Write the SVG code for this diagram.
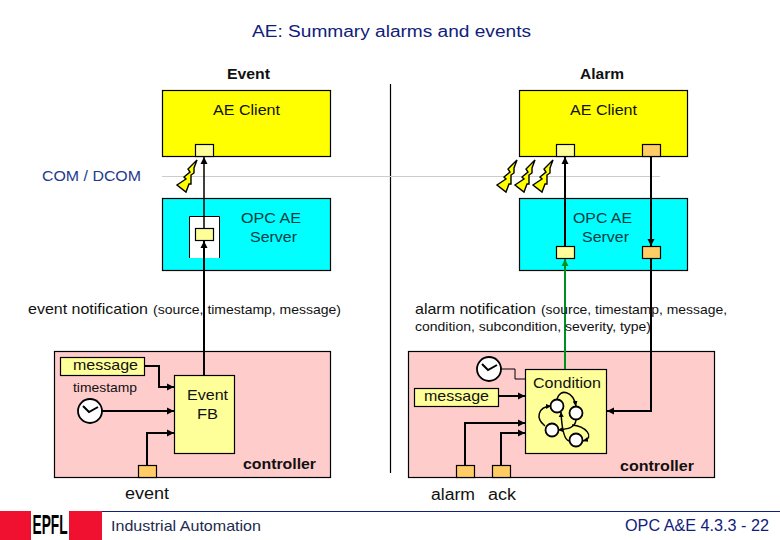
<svg xmlns="http://www.w3.org/2000/svg" width="780" height="540" viewBox="0 0 780 540">
<style>
text{font-family:"Liberation Sans",Arial,sans-serif;fill:#111;font-size:15px}
.b{font-weight:bold}
.n{fill:#10207a}
.s{font-size:13px}
.box{stroke:#000;stroke-width:1.2}
.y{fill:#ffff00}.c{fill:#00ffff}.p{fill:#ffcccc}.ly{fill:#ffff99}.o{fill:#ffcc66}
.w{fill:none;stroke:#000;stroke-width:2}
.t{fill:none;stroke:#000;stroke-width:1}
.q{fill:none;stroke:#000;stroke-width:1.5}
.h{fill:#fff;stroke:#000;stroke-width:1.8}
.bolt{fill:#ffff00;stroke:#000;stroke-width:1.4;stroke-linejoin:miter}
</style>
<defs>
<marker id="a" markerUnits="userSpaceOnUse" markerWidth="8" markerHeight="8" refX="7" refY="4" orient="auto"><path d="M0,0.5L7,4L0,7.5Z" fill="#000"/></marker>
<marker id="g" markerUnits="userSpaceOnUse" markerWidth="8" markerHeight="8" refX="7" refY="4" orient="auto"><path d="M0,0.5L7,4L0,7.5Z" fill="#009020"/></marker>
<marker id="m" markerUnits="userSpaceOnUse" markerWidth="6" markerHeight="6" refX="5" refY="3" orient="auto"><path d="M0,0.5L5,3L0,5.5Z" fill="#000"/></marker>
<polygon id="bolt" class="bolt" points="0,0 -9,9 -7,12 -13,17 -11,19 -20,25 -11,32 -8,24 -6,24 -6,15 -3,13 -3,8"/>
<g id="clock"><circle r="12" class="h"/><path d="M-7,-5L-1,1L8,-4" class="w"/></g>
</defs>
<g id="title">
<text x="252" y="37" textLength="279" lengthAdjust="spacingAndGlyphs" style="font-size:16px" class="n">AE: Summary alarms and events</text>
<text x="227" y="79" textLength="43" lengthAdjust="spacingAndGlyphs" class="b" style="font-size:14px">Event</text>
<text x="580" y="79" textLength="44" lengthAdjust="spacingAndGlyphs" class="b" style="font-size:14px">Alarm</text>
</g>
<g id="divider"><line x1="390.5" y1="84" x2="390.5" y2="473" stroke="#000" stroke-width="1.2"/></g>
<g id="com"><line x1="162" y1="176.5" x2="660" y2="176.5" stroke="#ccc" stroke-width="1"/>
<text x="42" y="181" textLength="99" lengthAdjust="spacingAndGlyphs" class="n" style="fill:#1c3a8c">COM / DCOM</text></g>
<g id="client-left"><rect x="162.5" y="90.5" width="168" height="66" class="box y"/><text x="213" y="115" textLength="67" lengthAdjust="spacingAndGlyphs">AE Client</text><rect x="195.5" y="144.5" width="18" height="12" class="box ly"/></g>
<g id="client-right"><rect x="519.5" y="90.5" width="168" height="66" class="box y"/><text x="570" y="115" textLength="67" lengthAdjust="spacingAndGlyphs">AE Client</text><rect x="556.5" y="144.5" width="18" height="12" class="box ly"/><rect x="642.5" y="144.5" width="18" height="12" class="box o"/></g>
<g id="server-left"><rect x="162.5" y="198.5" width="168" height="72" class="box c"/><rect x="189.500" y="216.500" width="30" height="41.500" fill="#fff"/><path d="M189.500,258V216.500H219.500V258" fill="none" stroke="#000"/><text x="241" y="223" textLength="60" lengthAdjust="spacingAndGlyphs" style="fill:#043c44">OPC AE</text><text x="250" y="242" textLength="47" lengthAdjust="spacingAndGlyphs" style="fill:#043c44">Server</text><rect x="195.500" y="228.500" width="18" height="12" class="box ly"/></g>
<g id="server-right"><rect x="519.5" y="198.5" width="168" height="72" class="box c"/><text x="573" y="223" textLength="59" lengthAdjust="spacingAndGlyphs" style="fill:#043c44">OPC AE</text><text x="582" y="242" textLength="47" lengthAdjust="spacingAndGlyphs" style="fill:#043c44">Server</text><rect x="556.5" y="246.5" width="18" height="12" class="box ly"/><rect x="642.5" y="246.5" width="18" height="12" class="box o"/></g>
<g id="bolts"><use href="#bolt" x="197" y="160"/><use href="#bolt" x="517" y="160"/><use href="#bolt" x="535" y="160"/><use href="#bolt" x="553" y="160"/></g>
<g id="controller-left"><rect x="54.5" y="351.5" width="276" height="126" class="box p"/>
<rect x="60.500" y="357.500" width="84" height="18" class="box ly"/><text x="73" y="370" textLength="65" lengthAdjust="spacingAndGlyphs">message</text>
<text x="73" y="392" textLength="64" lengthAdjust="spacingAndGlyphs" class="s">timestamp</text>
<rect x="174.500" y="375.500" width="60" height="78" class="box ly"/><text x="187" y="400" textLength="41" lengthAdjust="spacingAndGlyphs">Event</text><text x="197" y="419" textLength="21" lengthAdjust="spacingAndGlyphs">FB</text>
<rect x="138.500" y="465.500" width="18" height="12" class="box o"/>
<text x="243" y="469" textLength="73" lengthAdjust="spacingAndGlyphs" class="b" style="font-size:14px">controller</text></g>
<g id="controller-right"><rect x="408.5" y="351.5" width="306" height="126" class="box p"/>
<rect x="525.500" y="369.500" width="81" height="84" class="box ly"/><text x="533" y="388" textLength="68" lengthAdjust="spacingAndGlyphs">Condition</text>
<rect x="414.500" y="388.500" width="84" height="18" class="box ly"/><text x="424" y="401" textLength="65" lengthAdjust="spacingAndGlyphs">message</text>
<rect x="456.500" y="465.500" width="18" height="12" class="box o"/><rect x="492.500" y="465.500" width="18" height="12" class="box o"/>
<text x="620" y="471" textLength="74" lengthAdjust="spacingAndGlyphs" class="b" style="font-size:14px">controller</text></g>
<g id="connectors">
<path d="M204,375V241" class="w" marker-end="url(#a)"/>
<path d="M204,228V157" class="q" marker-end="url(#a)"/>
<path d="M145,366H159V387H174" class="w" marker-end="url(#a)"/>
<path d="M102,411H174" class="w" marker-end="url(#a)"/>
<path d="M147,465V433H174" class="w" marker-end="url(#a)"/>
<path d="M565,246V157" class="w" marker-end="url(#a)"/>
<path d="M565,369V259" fill="none" stroke="#009020" stroke-width="2" marker-end="url(#g)"/>
<path d="M651,157V246" class="w" marker-end="url(#a)"/>
<path d="M651,259V411H607" class="w" marker-end="url(#a)"/>
<path d="M501,369H515V379H525" class="t"/>
<path d="M498,396H525" class="w" marker-end="url(#a)"/>
<path d="M465,465V423H525" class="w" marker-end="url(#a)"/>
<path d="M501,465V433H525" class="w" marker-end="url(#a)"/>
</g>
<g id="clock-left"><use href="#clock" x="90" y="411"/></g>
<g id="clock-right"><use href="#clock" x="489" y="369"/></g>
<g id="state-machine">
<path d="M557,399C560,388 573,391 576,406" class="q" marker-end="url(#m)"/>
<path d="M545,426C535,418 538,407 551,406" class="q" marker-end="url(#m)"/>
<path d="M576,420C575,428 568,429 558,430" class="q" marker-end="url(#m)"/>
<path d="M569,441C565,440 562,432 561,412" class="q" marker-end="url(#m)"/>
<path d="M572,425C585,426 596,437 583,441" class="q" marker-end="url(#m)"/>
<circle cx="557" cy="406" r="6.500" class="h"/><circle cx="576" cy="413" r="6.500" class="h"/><circle cx="552" cy="430" r="6.500" class="h"/><circle cx="576" cy="440" r="6.500" class="h"/>
</g>
<g id="labels">
<text x="28" y="314" textLength="120" lengthAdjust="spacingAndGlyphs">event notification</text>
<text x="153" y="314" textLength="188" lengthAdjust="spacingAndGlyphs" class="s">(source, timestamp, message)</text>
<text x="415" y="314" textLength="121" lengthAdjust="spacingAndGlyphs">alarm notification</text>
<text x="541" y="314" textLength="186" lengthAdjust="spacingAndGlyphs" class="s">(source, timestamp, message,</text>
<text x="415" y="331" textLength="236" lengthAdjust="spacingAndGlyphs" class="s">condition, subcondition, severity, type)</text>
<text x="125" y="499" textLength="44" lengthAdjust="spacingAndGlyphs" style="font-size:16px">event</text>
<text x="431" y="500" textLength="44" lengthAdjust="spacingAndGlyphs" style="font-size:16px">alarm</text>
<text x="488" y="500" textLength="28" lengthAdjust="spacingAndGlyphs" style="font-size:16px">ack</text>
</g>
<g id="footer">
<line x1="102" y1="511.500" x2="780" y2="511.500" stroke="#10207a" stroke-width="1.2"/>
<rect x="0" y="511" width="102" height="29" fill="#f01030"/>
<rect x="31" y="511" width="38" height="29" fill="#fff"/>
<text transform="translate(32.500,534) scale(0.49,1)" class="b" style="font-size:28px;fill:#000">EPFL</text>
<text x="111" y="531" textLength="150" lengthAdjust="spacingAndGlyphs" class="n" style="fill:#222a50">Industrial Automation</text>
<text x="625" y="531" textLength="144" lengthAdjust="spacingAndGlyphs" class="n" style="font-size:16px">OPC A&amp;E 4.3.3 - 22</text>
</g>
</svg>
